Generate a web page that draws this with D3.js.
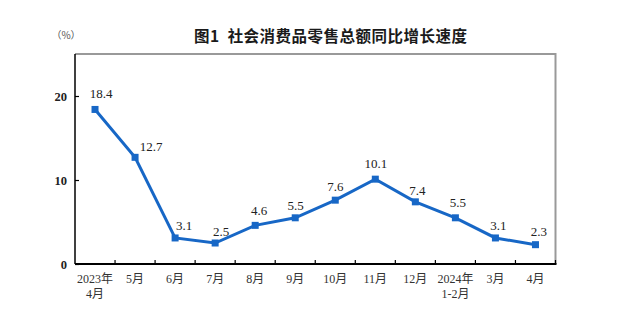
<!DOCTYPE html>
<html><head><meta charset="utf-8">
<script src="https://cdn.jsdelivr.net/npm/d3@7"></script>
<style>body{margin:0;background:#fff}svg{display:block}</style>
</head><body>
<svg id="c" width="624" height="333"></svg>
<script>
const categories = ["2023年\n4月","5月","6月","7月","8月","9月","10月","11月","12月","2024年\n1-2月","3月","4月"];
const values = [18.4,12.7,3.1,2.5,4.6,5.5,7.6,10.1,7.4,5.5,3.1,2.3];
const yTicks = [0,10,20];
const title = "图1\u00a0\u00a0社会消费品零售总额同比增长速度";
const unit = "（%）";
// label nudges (layout only)
const labelDx = [6,16,9,6,4,0.5,0,0.5,2,2.5,3,3.5];
const labelDy = [-11,-6,-8,-7,-10.5,-7.5,-9,-11,-7,-10.5,-7.5,-9];

const svg = d3.select("#c");
const L=75, R=555.5, T=54, B=264;
const x = d3.scaleBand().domain(categories).range([L,R]);
const y = d3.scaleLinear().domain([0,25]).range([B,T]);
const serif = "'Liberation Serif','Times New Roman','Noto Sans CJK SC',serif";
const blue = "#1767c6";

svg.append("text").attr("x",194).attr("y",41.5).attr("text-anchor","start")
  .attr("font-family","'Noto Sans CJK SC',sans-serif").attr("font-weight","bold")
  .attr("font-size",15.5).attr("textLength",273).attr("lengthAdjust","spacing")
  .attr("fill","#1a1a1a").text(title);
svg.append("text").attr("x",66).attr("y",39).attr("text-anchor","middle")
  .attr("font-family","'Noto Sans CJK SC',sans-serif").attr("font-size",10)
  .attr("fill","#555").text(unit);

// frame top/right grey
svg.append("path").attr("d",`M${L},${T}H${R}V${B}`).attr("fill","none")
  .attr("stroke","#999").attr("stroke-width",2);

// y axis
const yAxis = d3.axisRight(y).tickValues(yTicks).tickSize(4).tickFormat("");
const gy = svg.append("g").attr("transform",`translate(${L},0)`).call(yAxis);
gy.select(".domain").attr("stroke","#000").attr("stroke-width",1.5).attr("d",`M0,${T}V${B}`);
gy.selectAll(".tick line").attr("stroke","#000").attr("stroke-width",1.2);
svg.selectAll(".ylab").data(yTicks).join("text").attr("class","ylab")
  .attr("x",67).attr("y",d=>y(d)+4.5).attr("text-anchor","end")
  .attr("font-family",serif).attr("font-weight","bold").attr("font-size",12.5).attr("fill","#222").text(d=>d);

// x axis
const gx = svg.append("g").attr("transform",`translate(0,${B})`);
gx.append("line").attr("x1",L).attr("x2",R+1).attr("y1",0).attr("y2",0).attr("stroke","#000").attr("stroke-width",2);
const bounds = categories.slice(1).map(c=>x(c)).concat([R]);
gx.selectAll(".xt").data(bounds).join("line").attr("class","xt")
  .attr("x1",d=>d).attr("x2",d=>d).attr("y1",0).attr("y2",-4).attr("stroke","#000").attr("stroke-width",1.2);
const xl = gx.selectAll(".xl").data(categories).join("text").attr("class","xl")
  .attr("x",d=>x(d)+x.bandwidth()/2).attr("y",0).attr("text-anchor","middle")
  .attr("font-family",serif).attr("font-size",12).attr("fill","#333");
xl.each(function(d){
  const lines=d.split("\n");
  d3.select(this).selectAll("tspan").data(lines).join("tspan")
    .attr("x",x(d)+x.bandwidth()/2).attr("y",(l,i)=>19+i*15).text(l=>l);
});

// line
const cx = (d,i)=>x(categories[i])+x.bandwidth()/2;
svg.append("path").datum(values)
  .attr("d",d3.line().x(cx).y(d=>y(d)))
  .attr("fill","none").attr("stroke",blue).attr("stroke-width",3).attr("stroke-linejoin","miter");
svg.selectAll(".mk").data(values).join("rect").attr("class","mk")
  .attr("x",(d,i)=>cx(d,i)-3.5).attr("y",d=>y(d)-3.5).attr("width",7).attr("height",7).attr("fill",blue);
svg.selectAll(".vl").data(values).join("text").attr("class","vl")
  .attr("x",(d,i)=>cx(d,i)+labelDx[i]).attr("y",(d,i)=>y(d)+labelDy[i])
  .attr("text-anchor","middle").attr("font-family",serif).attr("font-size",13).attr("fill","#222")
  .text(d=>d.toFixed(1));
</script>
</body></html>
